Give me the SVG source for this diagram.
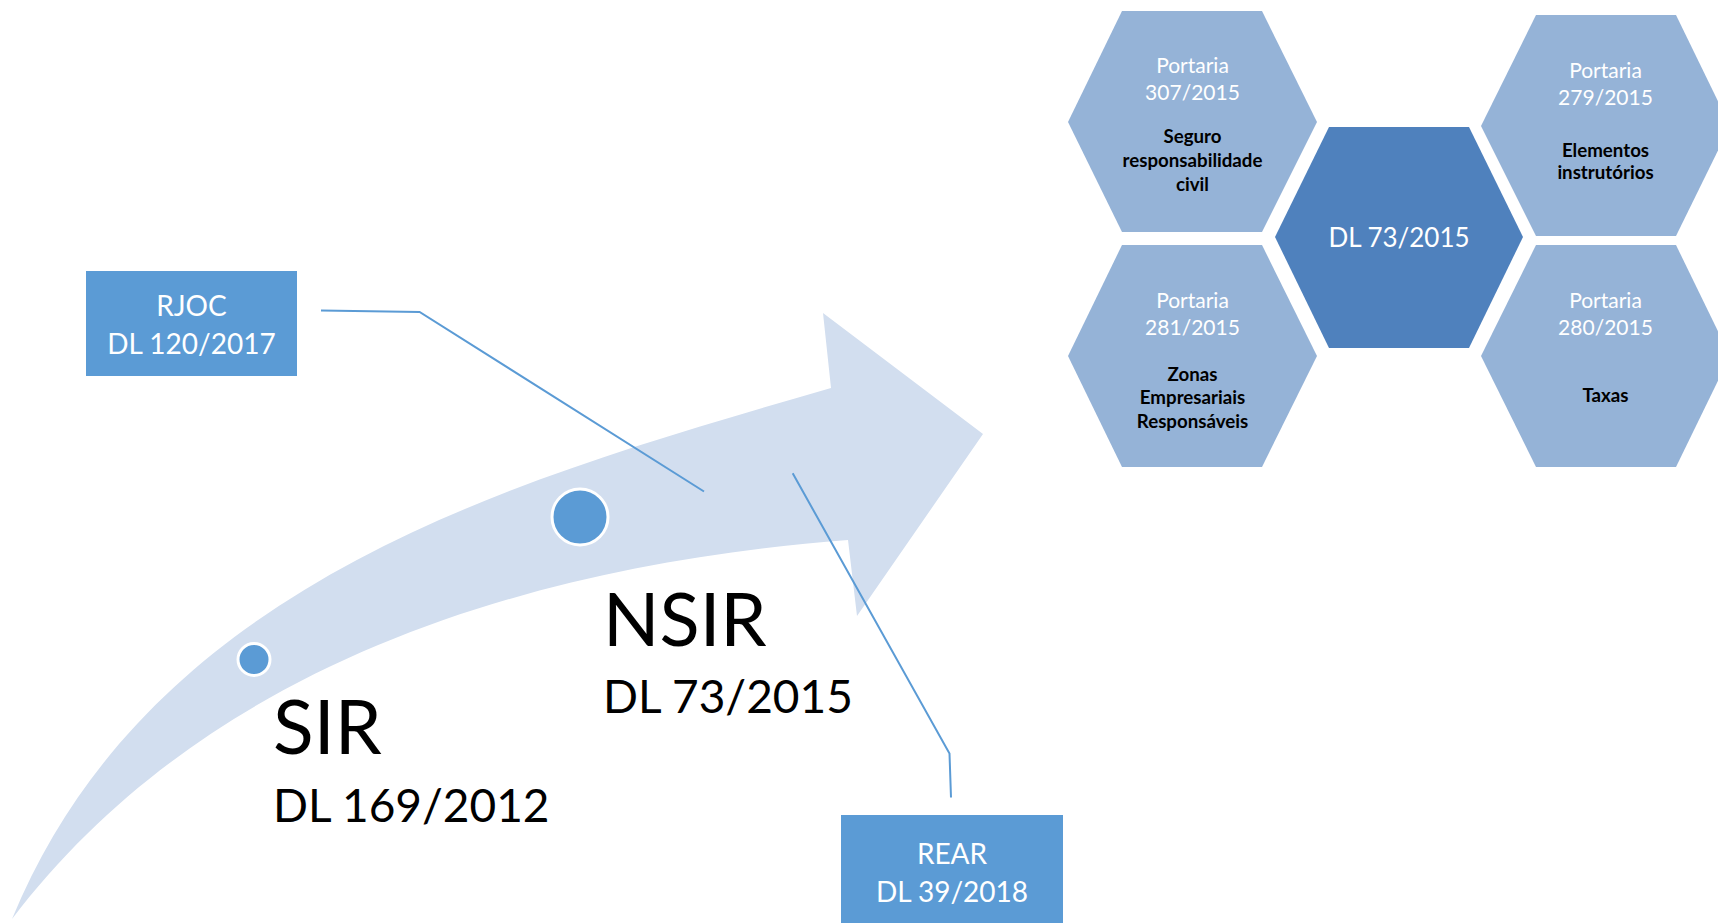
<svg xmlns="http://www.w3.org/2000/svg" width="1718" height="923" viewBox="0 0 1718 923">
  <style>
    .hex-light { fill: #95B3D7; }
    .hex-core { fill: #4F81BD; }
    .box { fill: #5B9BD5; }
    .dot { fill: #5B9BD5; stroke: #FFFFFF; stroke-width: 3; }
    .conn { fill: none; stroke: #5B9BD5; stroke-width: 2; }
    .t-white { font-family: Lato, "Liberation Sans", sans-serif; fill: #FFFFFF; text-anchor: middle; }
    .t-bold { font-family: Lato, "Liberation Sans", sans-serif; font-weight: bold; fill: #000000; text-anchor: middle; font-size: 18.7px; }
    .t-port { font-size: 21px; }
    .t-box { font-size: 28px; }
    .t-big { font-family: Lato, "Liberation Sans", sans-serif; fill: #000000; }
  </style>

  <rect width="1718" height="923" fill="#FFFFFF"/>

  <!-- curved timeline arrow -->
  <g id="timeline-arrow">
    <path fill="#D2DEEF" d="M12,919
      C152,579 518,479 831,388
      L823,313 L983,434 L857,616 L848,540
      C538,564 210,659 12,919 Z"/>
  </g>

  <!-- connectors -->
  <g id="connectors">
    <polyline class="conn" points="321,310.5 419.6,312 704,491.5"/>
    <polyline class="conn" points="792.7,473.3 949.5,753.5 951,797.5"/>
  </g>

  <!-- milestones -->
  <g id="sir">
    <circle class="dot" cx="254" cy="659.5" r="16"/>
    <text class="t-big" x="273" y="754" font-size="75">SIR</text>
    <text class="t-big" x="273" y="822" font-size="46">DL 169/2012</text>
  </g>
  <g id="nsir">
    <circle class="dot" cx="580" cy="517" r="28"/>
    <text class="t-big" x="603" y="646" font-size="74">NSIR</text>
    <text class="t-big" x="603" y="713" font-size="46">DL 73/2015</text>
  </g>

  <g id="rjoc">
    <rect class="box" x="86" y="271" width="211" height="105"/>
    <text class="t-white t-box" x="191.5" y="316">RJOC</text>
    <text class="t-white t-box" x="191.5" y="354">DL 120/2017</text>
  </g>
  <g id="rear">
    <rect class="box" x="841" y="815" width="222" height="115"/>
    <text class="t-white t-box" x="952" y="864">REAR</text>
    <text class="t-white t-box" x="952" y="902">DL 39/2018</text>
  </g>

  <!-- hexagon cluster -->
  <g id="hex-307">
    <polygon class="hex-light" points="1122,11 1262,11 1317,122 1262,232 1122,232 1068,122"/>
    <text class="t-white t-port" x="1192.5" y="72.7">Portaria</text>
    <text class="t-white t-port" x="1192.5" y="100">307/2015</text>
    <text class="t-bold" x="1192.5" y="142.7">Seguro</text>
    <text class="t-bold" x="1192.5" y="166.7">responsabilidade</text>
    <text class="t-bold" x="1192.5" y="190.7">civil</text>
  </g>
  <g id="hex-281">
    <polygon class="hex-light" points="1122,245 1262,245 1317,356 1262,467 1122,467 1068,356"/>
    <text class="t-white t-port" x="1192.5" y="308">Portaria</text>
    <text class="t-white t-port" x="1192.5" y="335">281/2015</text>
    <text class="t-bold" x="1192.5" y="381">Zonas</text>
    <text class="t-bold" x="1192.5" y="404">Empresariais</text>
    <text class="t-bold" x="1192.5" y="427.5">Responsáveis</text>
  </g>
  <g id="hex-core">
    <polygon class="hex-core" points="1329,127 1469,127 1523,237 1469,348 1329,348 1275,237"/>
    <text class="t-white" x="1399" y="246.5" font-size="26">DL 73/2015</text>
  </g>
  <g id="hex-279">
    <polygon class="hex-light" points="1536,15 1676,15 1730,126 1676,236 1536,236 1481,126"/>
    <text class="t-white t-port" x="1605.5" y="78">Portaria</text>
    <text class="t-white t-port" x="1605.5" y="105">279/2015</text>
    <text class="t-bold" x="1605.5" y="157">Elementos</text>
    <text class="t-bold" x="1605.5" y="179">instrutórios</text>
  </g>
  <g id="hex-280">
    <polygon class="hex-light" points="1536,245 1676,245 1730,356 1676,467 1536,467 1481,356"/>
    <text class="t-white t-port" x="1605.5" y="308">Portaria</text>
    <text class="t-white t-port" x="1605.5" y="335">280/2015</text>
    <text class="t-bold" x="1605.5" y="401.7">Taxas</text>
  </g>
</svg>
